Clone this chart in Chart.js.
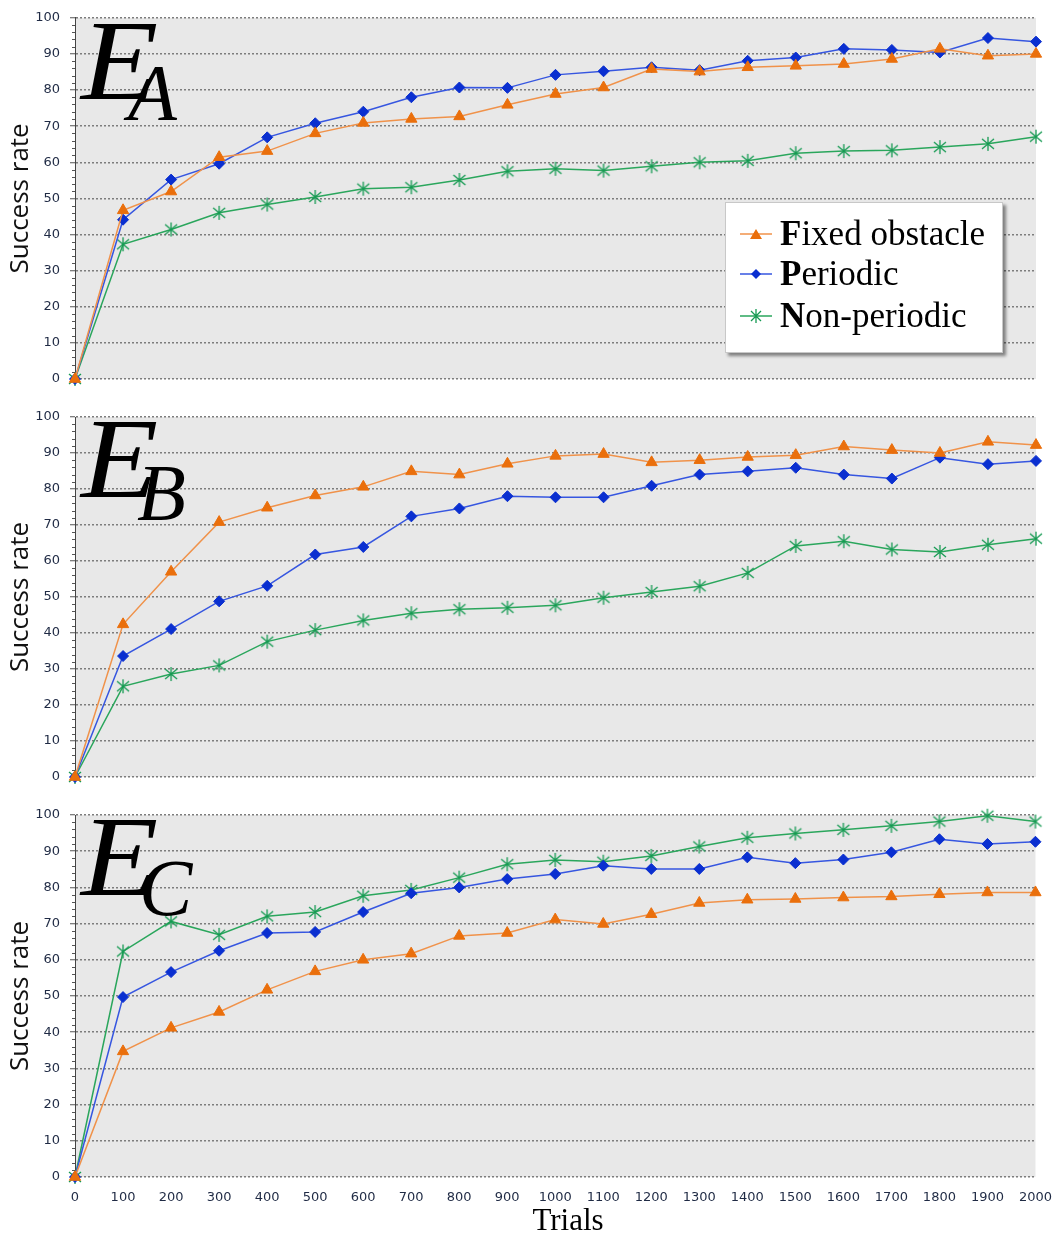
<!DOCTYPE html>
<html>
<head>
<meta charset="utf-8">
<title>Success rate vs trials</title>
<script src="https://cdn.jsdelivr.net/npm/chart.js@4.4.0/dist/chart.umd.min.js"></script>
<style>
  body { margin: 0; background: #fff; }
  #wrap { position: relative; width: 1057px; height: 1236px; overflow: hidden; }
  canvas { position: absolute; left: 0; }
  .env { position: absolute; font-family: "Liberation Serif", "DejaVu Serif", serif; font-style: italic; line-height: 1; color: #000; }
  .big { font-size: 115px; transform: scaleX(1.1); transform-origin: left top; }
  .sub { font-size: 80px; }
  #xTitle {
    position: absolute; left: 468px; width: 200px; top: 1204px; text-align: center;
    font-family: "Liberation Serif", "DejaVu Serif", serif; font-size: 31px; line-height: 1; color: #000;
  }
  #legend {
    position: absolute; left: 725px; top: 202px; width: 276px; height: 149px;
    background: #fff; border: 1px solid #c8c8c8;
    box-shadow: 3px 3px 3px rgba(0,0,0,0.45);
    font-family: "Liberation Serif", "DejaVu Serif", serif; font-size: 35px; color: #000;
  }
  .item { position: absolute; left: 14px; height: 40px; display: flex; align-items: center; }
  .item svg { margin-right: 8px; }
</style>
</head>
<body>
<div id="wrap">
  <canvas id="chartA" width="1057" height="398" style="top:0px"></canvas>
  <canvas id="chartB" width="1057" height="398" style="top:398px"></canvas>
  <canvas id="chartC" width="1057" height="440" style="top:796px"></canvas>

  <div class="env big" style="left:81px;top:3px">E</div>
  <div class="env sub" style="left:128px;top:53px">A</div>
  <div class="env big" style="left:81px;top:401px">E</div>
  <div class="env sub" style="left:137px;top:453px">B</div>
  <div class="env big" style="left:81px;top:799px">E</div>
  <div class="env sub" style="left:139px;top:848px">C</div>

  <div id="xTitle">Trials</div>
  <div id="legend"></div>
</div>

<script>
// x values (trials)
const trials = [0, 100, 200, 300, 400, 500, 600, 700, 800, 900, 1000,
  1100, 1200, 1300, 1400, 1500, 1600, 1700, 1800, 1900, 2000];

// panel E_A
const fixedA       = [0, 46.7, 51.9, 61.4, 63.1, 68, 70.9, 72, 72.7, 75.9, 78.9, 80.7, 85.8, 85.1, 86.3, 86.7, 87.2, 88.6, 91.4, 89.5, 90];
const periodicA    = [0, 44.1, 55.2, 59.6, 66.9, 70.8, 74, 78, 80.7, 80.6, 84.2, 85.2, 86.3, 85.5, 88.1, 89, 91.4, 91.1, 90.4, 94.4, 93.4];
const nonPeriodicA = [0, 37.3, 41.4, 46, 48.3, 50.4, 52.7, 53.1, 55.1, 57.5, 58.2, 57.7, 58.9, 60, 60.4, 62.5, 63.1, 63.3, 64.2, 65.1, 67.1];

// panel E_B
const fixedB       = [0, 42.4, 57, 70.8, 74.8, 78.2, 80.6, 84.9, 84, 87, 89.2, 89.7, 87.4, 88, 88.9, 89.4, 91.8, 90.8, 90, 93.1, 92.2];
const periodicB    = [0, 33.6, 41.1, 48.8, 53.1, 61.8, 63.9, 72.4, 74.6, 78, 77.7, 77.7, 80.9, 84, 84.9, 85.9, 84, 82.9, 88.7, 86.9, 87.8];
const nonPeriodicB = [0, 25.2, 28.6, 31, 37.6, 40.8, 43.5, 45.5, 46.6, 47, 47.7, 49.8, 51.4, 53, 56.7, 64.2, 65.5, 63.2, 62.5, 64.5, 66.2];

// panel E_C
const fixedC       = [0, 34.7, 41.2, 45.6, 51.7, 56.8, 60, 61.7, 66.6, 67.4, 71.1, 69.9, 72.6, 75.7, 76.6, 76.8, 77.2, 77.5, 78.1, 78.6, 78.6];
const periodicC    = [0, 49.7, 56.6, 62.5, 67.4, 67.7, 73.2, 78.4, 80, 82.3, 83.7, 86, 85.1, 85.1, 88.3, 86.7, 87.7, 89.7, 93.3, 92, 92.6];
const nonPeriodicC = [0, 62.3, 70.6, 66.9, 72, 73.2, 77.7, 79.3, 82.7, 86.4, 87.6, 87.1, 88.7, 91.3, 93.7, 94.9, 95.9, 97, 98.2, 99.8, 98.2];

const seriesNames = ['Fixed obstacle', 'Periodic', 'Non-periodic'];
const lineColors = ['#f0924a', '#3656e0', '#2aa65c'];
const markColors = ['#ea6f0c', '#0a2fd0', '#159a52'];

// asterisk marker (vertical bar + X) for the non-periodic series
function makeStar(color) {
  const c = document.createElement('canvas');
  c.width = 16; c.height = 16;
  const g = c.getContext('2d');
  g.strokeStyle = color;
  g.lineWidth = 1.3;
  g.beginPath();
  g.moveTo(8, 1); g.lineTo(8, 15);
  g.moveTo(2, 3); g.lineTo(14, 13);
  g.moveTo(14, 3); g.lineTo(2, 13);
  g.stroke();
  return c;
}
const starMark = makeStar(markColors[2]);

// gray plot background
const plotBg = {
  id: 'plotBg',
  beforeDraw(chart) {
    const a = chart.chartArea, ctx = chart.ctx;
    ctx.save();
    ctx.fillStyle = '#e8e8e8';
    ctx.fillRect(a.left, a.top, a.right - a.left, a.bottom - a.top);
    ctx.restore();
  }
};

// minor ticks on the y axis, every 2 units
const minorTicks = {
  id: 'minorTicks',
  afterDraw(chart) {
    const y = chart.scales.y, ctx = chart.ctx;
    ctx.save();
    ctx.strokeStyle = '#555';
    ctx.lineWidth = 1;
    ctx.beginPath();
    for (let v = 0; v <= 100; v += 2) {
      if (v % 10 === 0) continue;
      const py = Math.round(y.getPixelForValue(v)) + 0.5;
      ctx.moveTo(y.right - 3, py);
      ctx.lineTo(y.right, py);
    }
    ctx.stroke();
    ctx.restore();
  }
};

function toPoints(vals) {
  return trials.map((t, i) => ({ x: t, y: vals[i] }));
}

function makeChart(id, fixed, periodic, nonPeriodic, showX) {
  const ctx = document.getElementById(id).getContext('2d');
  const xAxis = {
    type: 'linear', min: 0, max: 2000,
    display: showX,
    grid: { display: false, drawTicks: true, tickLength: 8 },
    border: { display: false },
    ticks: {
      stepSize: 100, autoSkip: false, maxRotation: 0, padding: 5,
      color: '#1f2a44', font: { family: 'DejaVu Sans', size: 13 },
      callback: v => String(v)
    }
  };
  if (showX) xAxis.afterFit = scale => { scale.height = 59; };

  return new Chart(ctx, {
    type: 'line',
    data: {
      datasets: [
        {
          label: seriesNames[0], data: toPoints(fixed),
          borderColor: lineColors[0], borderWidth: 1.5,
          pointStyle: 'triangle', pointRadius: 6.5,
          pointBackgroundColor: markColors[0], pointBorderColor: markColors[0], pointBorderWidth: 1
        },
        {
          label: seriesNames[1], data: toPoints(periodic),
          borderColor: lineColors[1], borderWidth: 1.5,
          pointStyle: 'rectRot', pointRadius: 5.5,
          pointBackgroundColor: markColors[1], pointBorderColor: markColors[1], pointBorderWidth: 1
        },
        {
          label: seriesNames[2], data: toPoints(nonPeriodic),
          borderColor: lineColors[2], borderWidth: 1.5,
          pointStyle: starMark, pointRadius: 8
        }
      ]
    },
    options: {
      responsive: false,
      animation: false,
      devicePixelRatio: 1,
      clip: false,
      layout: { padding: { top: id === 'chartA' ? 17 : 19, right: 21, bottom: showX ? 0 : 19, left: 0 } },
      plugins: { legend: { display: false }, tooltip: { enabled: false } },
      elements: { line: { tension: 0 } },
      scales: {
        x: xAxis,
        y: {
          min: 0, max: 100,
          grid: {
            color: '#7d7d7d', lineWidth: 1.5,
            drawTicks: true, tickLength: 5, tickColor: '#555', tickBorderDash: [], tickWidth: 1
          },
          border: { display: true, color: '#444', width: 1, dash: [2, 2] },
          ticks: {
            stepSize: 10, padding: 10,
            color: '#1f2a44', font: { family: 'DejaVu Sans', size: 13 }
          },
          title: {
            display: true, text: 'Success rate', color: '#111',
            font: { family: 'Open Sans', size: 26 },
            padding: { top: 5, bottom: 0 }
          },
          afterFit(scale) { scale.width = 75; }
        }
      }
    },
    plugins: [plotBg, minorTicks]
  });
}

makeChart('chartA', fixedA, periodicA, nonPeriodicA, false);
makeChart('chartB', fixedB, periodicB, nonPeriodicB, false);
makeChart('chartC', fixedC, periodicC, nonPeriodicC, true);

// legend of panel E_A, first letter in bold
const sampleMarks = [
  '<polygon points="16,5 22,15 10,15" fill="' + markColors[0] + '"/>',
  '<polygon points="16,5 21,10 16,15 11,10" fill="' + markColors[1] + '"/>',
  '<path d="M16 3V17M11 5L21 15M21 5L11 15" stroke="' + markColors[2] + '" stroke-width="1.3" fill="none"/>'
];
const rowTops = [11, 51, 93];
const legend = document.getElementById('legend');
seriesNames.forEach((name, i) => {
  const row = document.createElement('div');
  row.className = 'item';
  row.style.top = rowTops[i] + 'px';
  row.innerHTML =
    '<svg width="32" height="20" viewBox="0 0 32 20">' +
    '<line x1="0" y1="10" x2="32" y2="10" stroke="' + lineColors[i] + '" stroke-width="1.5"/>' +
    sampleMarks[i] + '</svg>' +
    '<span><b>' + name[0] + '</b>' + name.slice(1) + '</span>';
  legend.appendChild(row);
});
</script>
</body>
</html>
